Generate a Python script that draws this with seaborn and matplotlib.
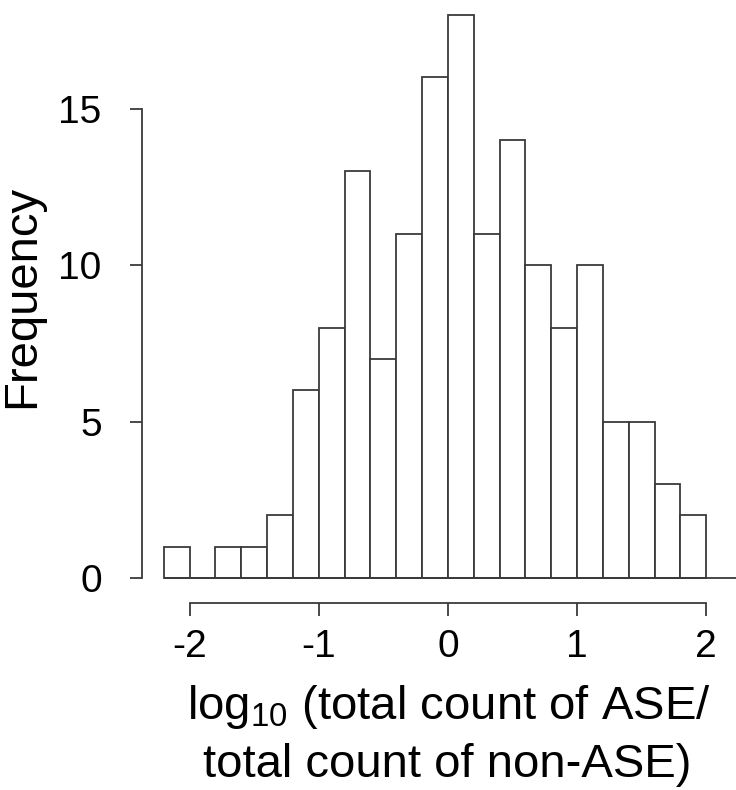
import matplotlib
matplotlib.use("Agg")
import matplotlib.pyplot as plt
import seaborn as sns
import numpy as np

# Histogram counts (bins of width 0.2 from -2.2 to 2.0)
bin_edges = [-2.2, -2.0, -1.8, -1.6, -1.4, -1.2, -1.0, -0.8, -0.6, -0.4, -0.2,
             0.0, 0.2, 0.4, 0.6, 0.8, 1.0, 1.2, 1.4, 1.6, 1.8, 2.0]
counts = [1, 0, 1, 1, 2, 6, 8, 13, 7, 11, 16, 18, 11, 14, 10, 8, 10, 5, 5, 3, 2]
x_ticks = [-2, -1, 0, 1, 2]
y_ticks = [0, 5, 10, 15]

sns.set_style("ticks")
plt.rcParams['font.family'] = ['Liberation Sans', 'DejaVu Sans']
plt.rcParams['mathtext.fontset'] = 'custom'
plt.rcParams['mathtext.rm'] = 'Liberation Sans'
plt.rcParams['mathtext.it'] = 'Liberation Sans:italic'
plt.rcParams['text.color'] = 'black'
plt.rcParams['xtick.labelcolor'] = 'black'
plt.rcParams['ytick.labelcolor'] = 'black'

line_col = '#3a3a3a'
W, H = 736, 790
fig = plt.figure(figsize=(W / 100, H / 100), dpi=100)
ax = fig.add_axes([142 / W, 1 - 603 / H, (736 - 142) / W, 603 / H])

centers = [(a + b) / 2 for a, b in zip(bin_edges[:-1], bin_edges[1:])]
sns.histplot(x=centers, weights=counts, bins=bin_edges, ax=ax,
             color='white', edgecolor=line_col, linewidth=1.3, alpha=1)
ax.hlines(0, bin_edges[0], 2.3, color=line_col, lw=1.3)

ax.set_xlim(-2.368, 2.23)
ax.set_ylim(-0.8, 18.47)
ax.set_xticks(x_ticks)
ax.set_yticks(y_ticks)
ax.set_xticklabels([str(v) for v in x_ticks])
ax.set_yticklabels([str(v) for v in y_ticks])

for s in ['top', 'right']:
    ax.spines[s].set_visible(False)
ax.spines['left'].set_bounds(0, 15)
ax.spines['bottom'].set_bounds(-2, 2)
for s in ['left', 'bottom']:
    ax.spines[s].set_color(line_col)
    ax.spines[s].set_linewidth(1.3)
ax.tick_params(axis='x', length=9, width=1.3, color=line_col, pad=10, labelsize=28)
ax.tick_params(axis='y', length=9, width=1.3, color=line_col, pad=20, labelsize=28)
ax.set_xlabel('')
ax.set_ylabel('')

fig.text(22 / W, 1 - 296 / H, 'Frequency', rotation=90, ha='center', va='center', fontsize=34)
fig.text(449 / W, 1 - 719 / H, 'log$_{\\mathregular{10}}$ (total count of ASE/',
         ha='center', va='baseline', fontsize=34)
fig.text(447 / W, 1 - 777 / H, 'total count of non-ASE)', ha='center', va='baseline', fontsize=34)

fig.savefig('out.png', dpi=100, facecolor='white')
